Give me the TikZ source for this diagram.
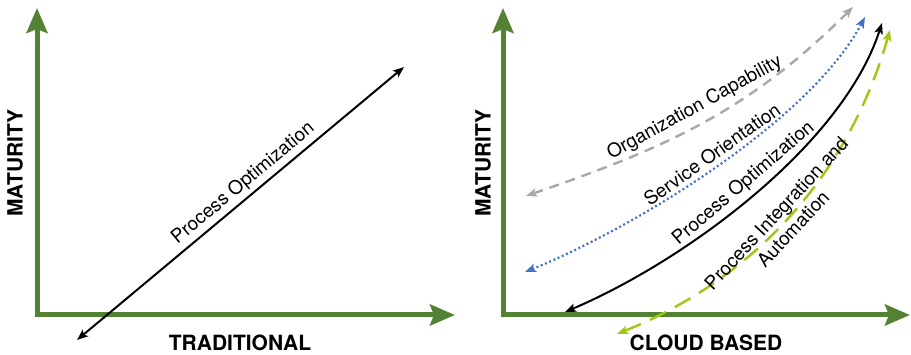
\documentclass[tikz,border=0pt]{standalone}
\usepackage{fontspec}
\setmainfont{TeX Gyre Heros}
\usetikzlibrary{arrows.meta}

\definecolor{axisgreen}{RGB}{84,130,53}
\definecolor{limegreen}{RGB}{158,200,18}
\definecolor{softgray}{RGB}{168,168,168}
\definecolor{dotblue}{RGB}{68,114,196}

\tikzset{
  axis/.style={axisgreen, line width=5pt, line join=miter,
    {Stealth[length=25pt,width=21pt,inset=4pt]}-{Stealth[length=25pt,width=21pt,inset=4pt]}},
  axislabel/.style={font=\fontsize{21}{24}\selectfont\bfseries},
  curvelabel/.style={font=\fontsize{19}{23}\selectfont, sloped},
  trend/.style={line width=2pt, <->}
}

\begin{document}
\begin{tikzpicture}[x=1pt, y=1pt, >={Stealth[length=11pt,width=8.5pt,inset=2.5pt]}]
    \useasboundingbox (0,0) rectangle (911,355);
    % traditional
    \coordinate (top1) at (37,347);
    \coordinate (right1) at (455,40);
    \draw[axis] (top1) |- (right1);
    \node[axislabel, rotate=90] (mat1) at (15,192) {MATURITY};
    \node[axislabel] (trad) at (240,12) {TRADITIONAL};
    \coordinate (poA) at (77,15);
    \coordinate (poB) at (404,288);
    \draw[trend] (poA) -- node[curvelabel, above, pos=0.535, inner sep=3.5pt] {Process Optimization} (poB);
    % cloud based
    \coordinate (top2) at (503,347);
    \coordinate (right2) at (910,40);
    \draw[axis] (top2) |- (right2);
    \node[axislabel, rotate=90] (mat2) at (483,192) {MATURITY};
    \node[axislabel] (cloud) at (706,12) {CLOUD BASED};
    \coordinate (ocA) at (526,159);
    \coordinate (ocB) at (853,348);
    \coordinate (soA) at (525,83);
    \coordinate (soB) at (865,338);
    \coordinate (pcA) at (565,43);
    \coordinate (pcB) at (882,332);
    \coordinate (piA) at (617,21);
    \coordinate (piB) at (890,325);
    \draw[trend, softgray, line width=2.4pt, dash pattern=on 10pt off 7pt] (ocA) to[out=19, in=225]
        node[curvelabel, black, above, pos=0.5, inner sep=6pt] {Organization Capability} (ocB);
    \draw[trend, dotblue, line width=2.2pt, dash pattern=on 2pt off 2.6pt] (soA) to[out=22, in=242, looseness=0.71]
        node[curvelabel, black, above, pos=0.51, inner sep=4pt] {Service Orientation} (soB);
    \draw[trend, black] (pcA) to[out=23, in=252, looseness=0.77]
        node[curvelabel, above, pos=0.5, inner sep=4.5pt] {Process Optimization} (pcB);
    \draw[trend, limegreen, line width=2.4pt, dash pattern=on 18pt off 10pt] (piA) to[out=22, in=254, looseness=0.94]
        node[curvelabel, black, align=center, pos=0.48] {Process Integration and\\Automation} (piB);
\end{tikzpicture}
\end{document}
